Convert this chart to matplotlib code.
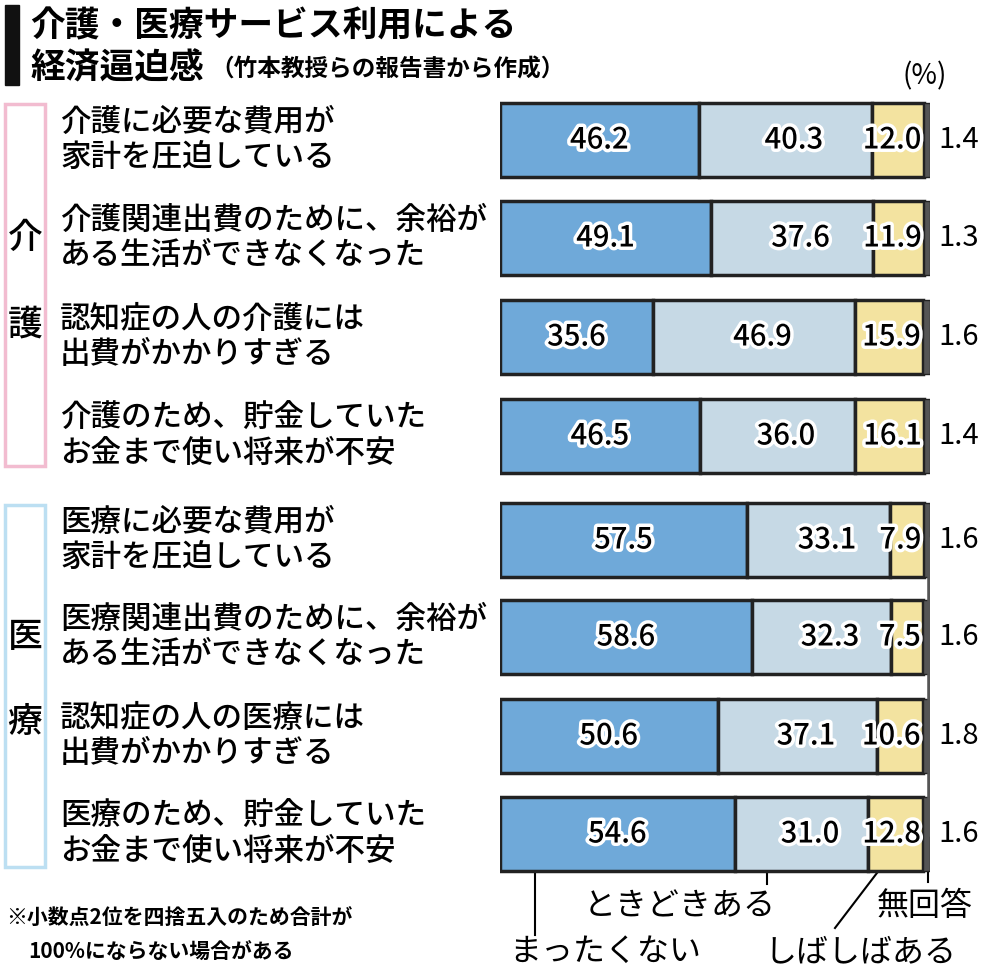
import matplotlib
matplotlib.use('Agg')
import matplotlib.pyplot as plt
import matplotlib.patheffects as pe

plt.rcParams['font.family'] = ['Noto Sans CJK JP', 'DejaVu Sans']

labels = ['介護に必要な費用が\n家計を圧迫している',
          '介護関連出費のために、余裕が\nある生活ができなくなった',
          '認知症の人の介護には\n出費がかかりすぎる',
          '介護のため、貯金していた\nお金まで使い将来が不安',
          '医療に必要な費用が\n家計を圧迫している',
          '医療関連出費のために、余裕が\nある生活ができなくなった',
          '認知症の人の医療には\n出費がかかりすぎる',
          '医療のため、貯金していた\nお金まで使い将来が不安']
never = [46.2, 49.1, 35.6, 46.5, 57.5, 58.6, 50.6, 54.6]
sometimes = [40.3, 37.6, 46.9, 36.0, 33.1, 32.3, 37.1, 31.0]
often = [12.0, 11.9, 15.9, 16.1, 7.9, 7.5, 10.6, 12.8]
noans = [1.4, 1.3, 1.6, 1.4, 1.6, 1.6, 1.8, 1.6]
series = ['まったくない', 'ときどきある', 'しばしばある', '無回答']

W, H = 985, 974
fig = plt.figure(figsize=(W / 100, H / 100), dpi=100)
bg = fig.add_axes([0, 0, 1, 1])
bg.set_xlim(0, W); bg.set_ylim(H, 0); bg.axis('off')

ycent = [140, 238, 337, 436, 540, 637, 736, 834]
bh = 74
x0, x1 = 500, 930
ax = fig.add_axes([x0 / W, 0, (x1 - x0) / W, 1])
ax.set_xlim(0, 100); ax.set_ylim(H, 0); ax.axis('off')

cols = ['#6fa9d9', '#c6d9e5', '#f3e3a0', '#555555']
stroke = [pe.withStroke(linewidth=5, foreground='white')]
for i, y in enumerate(ycent):
    left = 0
    vals = [never[i], sometimes[i], often[i], noans[i]]
    for j, v in enumerate(vals):
        ax.barh(y, v, left=left, height=bh, color=cols[j], edgecolor='#222222',
                linewidth=2.5 if j < 3 else 1)
        if j == 0:
            ax.text(left + v / 2, y, f'{v:.1f}', ha='center', va='center', fontsize=21,
                    fontweight='medium', path_effects=stroke)
        elif j == 1:
            ax.text(left + v / 2 + 2, y, f'{v:.1f}', ha='center', va='center', fontsize=21,
                    fontweight='medium', path_effects=stroke)
        elif j == 2:
            ax.text(left + v - 0.5, y, f'{v:.1f}', ha='right', va='center', fontsize=21,
                    fontweight='medium', path_effects=stroke)
        left += v
    ax.text(102, y, f'{noans[i]:.1f}', ha='left', va='center', fontsize=21, clip_on=False)
    bg.text(60, y, labels[i], ha='left', va='center', fontsize=22, linespacing=1.15,
            fontweight='medium')
# connector line at 100% in lower group
ax.plot([100, 100], [ycent[4], ycent[7]], color='#555555', lw=4)

# group brackets
bg.add_patch(plt.Rectangle((5, 104), 40, 362, fill=False, ec='#f2bcd0', lw=2.5))
bg.add_patch(plt.Rectangle((5, 505), 40, 362, fill=False, ec='#bcdff2', lw=2.5))
for t, y in [('介', 238), ('護', 325), ('医', 637), ('療', 722)]:
    bg.text(25, y, t, ha='center', va='center', fontsize=25, fontweight='medium')

# title
bg.add_patch(plt.Rectangle((5, 5), 14, 80, color='#111111'))
bg.text(30, 26, '介護・医療サービス利用による', ha='left', va='center', fontsize=25, fontweight='bold')
bg.text(30, 68, '経済逼迫感', ha='left', va='center', fontsize=25, fontweight='bold')
bg.text(210, 70, '（竹本教授らの報告書から作成）', ha='left', va='center', fontsize=17, fontweight='bold')
bg.text(925, 76, '(%)', ha='center', va='center', fontsize=20)

# legend leaders
bg.plot([535, 535], [872, 935], color='k', lw=1.5)
bg.plot([767, 767], [872, 884], color='k', lw=1.5)
bg.plot([880, 835], [869, 928], color='k', lw=1.5)
bg.plot([928, 928], [870, 882], color='k', lw=1.5)
bg.text(680, 906, series[1], ha='center', va='center', fontsize=23)
bg.text(605, 952, series[0], ha='center', va='center', fontsize=23)
bg.text(860, 952, series[2], ha='center', va='center', fontsize=23)
bg.text(925, 906, series[3], ha='center', va='center', fontsize=23)

bg.text(6, 918, '※小数点2位を四捨五入のため合計が', ha='left', va='center', fontsize=15, fontweight='bold')
bg.text(28, 952, '100%にならない場合がある', ha='left', va='center', fontsize=15, fontweight='bold')

fig.savefig('out.png', dpi=100)
